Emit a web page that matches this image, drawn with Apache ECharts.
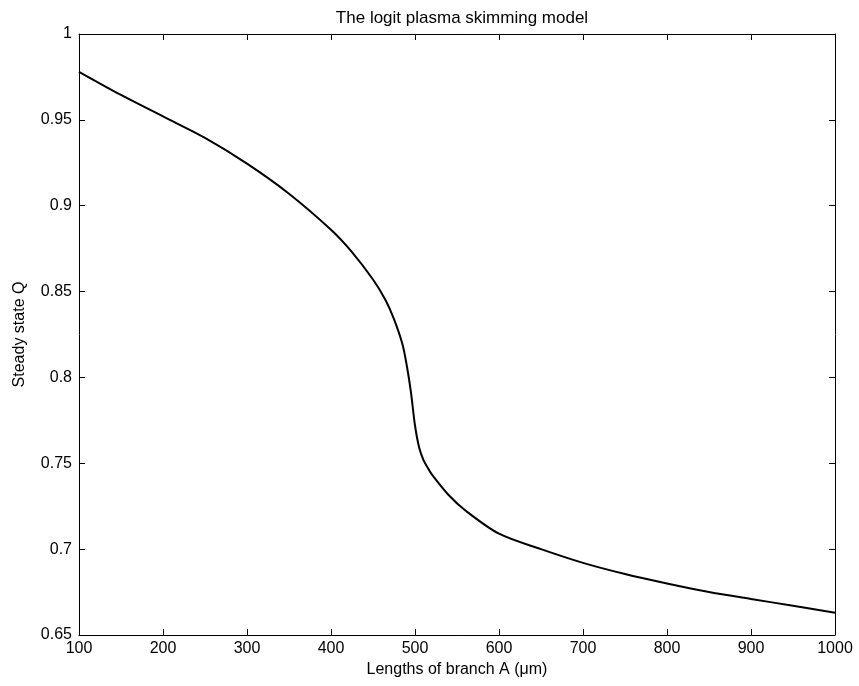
<!DOCTYPE html>
<html>
<head>
<meta charset="utf-8">
<script src="https://cdn.jsdelivr.net/npm/echarts@6/dist/echarts.min.js"></script>
<style>
  html, body { margin: 0; padding: 0; background: #fff; }
  #chart { width: 859px; height: 686px; }
</style>
</head>
<body>
<div id="chart"></div>
<script>
// Branch A length (µm) and the steady-state Q of the logit plasma skimming model
var branchLength = [100, 150, 200, 250, 300, 350, 400, 425, 450, 465, 475, 485, 490, 495, 500, 505, 510, 515, 520, 540, 560, 600, 650, 700, 750, 800, 850, 900, 950, 1000];
var steadyQ = [0.978, 0.9645, 0.952, 0.9395, 0.9245, 0.907, 0.886, 0.873, 0.857, 0.845, 0.834, 0.8195, 0.8075, 0.792, 0.772, 0.759, 0.752, 0.7475, 0.7435, 0.7315, 0.7225, 0.709, 0.700, 0.692, 0.6855, 0.680, 0.675, 0.671, 0.667, 0.663];

var xTicks = { min: 100, max: 1000, interval: 100 };
var yTicks = { min: 0.65, max: 1, interval: 0.05 };

var points = branchLength.map(function (x, i) { return [x, steadyQ[i]]; });

var font = 'Liberation Sans, Arial, Helvetica, sans-serif';
var frameLine = { show: true, lineStyle: { color: '#000', width: 1 } };
var innerTick = { show: true, inside: true, length: 6, lineStyle: { color: '#000', width: 1 } };

var chart = echarts.init(document.getElementById('chart'), null, { renderer: 'canvas' });
chart.setOption({
  animation: false,
  backgroundColor: '#fff',
  title: {
    text: 'The logit plasma skimming model',
    left: 457, top: 5, textAlign: 'center',
    textStyle: { fontFamily: font, fontSize: 17, fontWeight: 'normal', color: '#000' }
  },
  grid: { left: 79, right: 24, top: 34, bottom: 51, containLabel: false },
  xAxis: [{
    type: 'value', position: 'bottom',
    min: xTicks.min, max: xTicks.max, interval: xTicks.interval,
    name: 'Lengths of branch A (\u03bcm)', nameLocation: 'middle', nameGap: 25,
    nameTextStyle: { fontFamily: font, fontSize: 16, color: '#000' },
    axisLine: frameLine, axisTick: innerTick,
    axisLabel: { fontFamily: font, fontSize: 16, color: '#000', margin: 6,
      formatter: function (v) { return String(v); } },
    splitLine: { show: false }
  }, {
    type: 'value', position: 'top',
    min: xTicks.min, max: xTicks.max, interval: xTicks.interval,
    axisLine: frameLine, axisTick: innerTick,
    axisLabel: { show: false }, splitLine: { show: false }
  }],
  yAxis: [{
    type: 'value', position: 'left',
    min: yTicks.min, max: yTicks.max, interval: yTicks.interval,
    name: 'Steady state Q', nameLocation: 'middle', nameGap: 51,
    nameTextStyle: { fontFamily: font, fontSize: 16, color: '#000' },
    axisLine: frameLine, axisTick: innerTick,
    axisLabel: { fontFamily: font, fontSize: 16, color: '#000', margin: 7,
      formatter: function (v) { return String(+v.toFixed(2)); } },
    splitLine: { show: false }
  }, {
    type: 'value', position: 'right',
    min: yTicks.min, max: yTicks.max, interval: yTicks.interval,
    axisLine: frameLine, axisTick: innerTick,
    axisLabel: { show: false }, splitLine: { show: false }
  }],
  series: [{
    type: 'line',
    data: points,
    xAxisIndex: 0, yAxisIndex: 0,
    showSymbol: false,
    smooth: 0.3,
    lineStyle: { color: '#000', width: 2 }
  }]
});
</script>
</body>
</html>
